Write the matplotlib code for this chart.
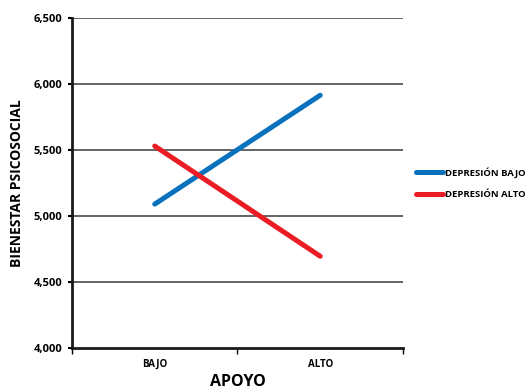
import matplotlib
matplotlib.use("Agg")
import matplotlib.pyplot as plt
from matplotlib.ticker import FuncFormatter

categories = ["BAJO", "ALTO"]
dep_bajo = [5090, 5915]
dep_alto = [5530, 4695]
series_names = ["DEPRESIÓN BAJO", "DEPRESIÓN ALTO"]
yticks = [4000, 4500, 5000, 5500, 6000, 6500]

plt.rcParams['font.family'] = ['Open Sans', 'DejaVu Sans']
plt.rcParams['font.weight'] = 'bold'

fig = plt.figure(figsize=(5.32, 3.89), dpi=100)
ax = fig.add_axes([0.1353, 0.1054, 0.6222, 0.8483])

x = [0.5, 1.5]
ax.plot(x, dep_bajo, color="#0a72bd", lw=3.6, solid_capstyle="round", label=series_names[0], zorder=3)
ax.plot(x, dep_alto, color="#ec1c24", lw=3.6, solid_capstyle="round", label=series_names[1], zorder=3)

ax.set_xlim(0, 2)
ax.set_ylim(4000, 6500)
ax.set_yticks(yticks)
ax.yaxis.set_major_formatter(FuncFormatter(lambda v, p: f"{int(v):,}"))
for v in yticks[1:]:
    ax.axhline(v, color="#3a3a3a", lw=1.1, zorder=1)

ax.set_xticks([0, 1, 2])
ax.set_xticklabels([])
ax.set_xticks(x, minor=True)
ax.set_xticklabels(categories, minor=True)
ax.tick_params(axis='x', which='minor', length=0, pad=8, labelsize=7)
ax.tick_params(axis='x', which='major', length=4, width=1, direction='out')
ax.tick_params(axis='y', length=3, width=1.5, labelsize=8, pad=4)

for s in ["top", "right"]:
    ax.spines[s].set_visible(False)
for s in ["left", "bottom"]:
    ax.spines[s].set_linewidth(2)
    ax.spines[s].set_color("#1a1a1a")

ax.set_ylabel("BIENESTAR PSICOSOCIAL", fontsize=10, fontweight='bold', labelpad=7)
ax.set_xlabel("APOYO", fontsize=11.5, fontweight='bold', labelpad=3)

leg = ax.legend(loc="center left", bbox_to_anchor=(1.015, 0.50), frameon=False,
                fontsize=6.8, handlelength=2.8, handletextpad=0.2, labelspacing=1.3)
for t in leg.get_texts():
    t.set_fontweight('bold')

fig.savefig("out.png", dpi=100)
